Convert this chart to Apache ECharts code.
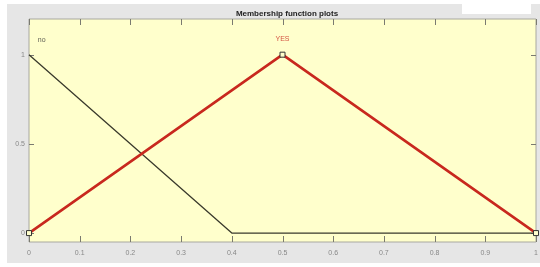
<!DOCTYPE html>
<html>
<head>
<meta charset="utf-8">
<script src="https://cdn.jsdelivr.net/npm/echarts@6/dist/echarts.min.js"></script>
<style>
  html, body { margin: 0; padding: 0; background: #fff; }
  #chart { width: 540px; height: 267px; }
</style>
</head>
<body>
<div id="chart"></div>
<script>
// membership functions: [x, degree]
const noPoints = [[0, 1], [0.4, 0], [1, 0]];
const yesPoints = [[0, 0], [0.5, 1], [1, 0]];
// labels drawn above each function
const mfLabels = [
  { name: 'no', x: 0.025, y: 1.08, color: '#333' },
  { name: 'YES', x: 0.5, y: 1.09, color: '#c8281e' }
];
const xTicks = [0, 0.1, 0.2, 0.3, 0.4, 0.5, 0.6, 0.7, 0.8, 0.9, 1];
const yTicks = [0, 0.5, 1];

const X_MIN = 0, X_MAX = 1;
const Y_MIN = -0.05, Y_MAX = 1.2;

const chart = echarts.init(document.getElementById('chart'));

const TICK_COLOR = '#7a7a70';
const crisp = v => Math.round(v) + 0.5;

function tickLine(x1, y1, x2, y2) {
  return { type: 'line', shape: { x1, y1, x2, y2 }, style: { stroke: TICK_COLOR, lineWidth: 1 } };
}

chart.setOption({
  animation: false,
  backgroundColor: '#fff',
  title: {
    text: 'Membership function plots',
    left: 282,
    textAlign: 'center',
    top: 5,
    textStyle: { fontSize: 8, fontWeight: 'bold', color: '#222', fontFamily: 'Liberation Sans Narrow, Arial Narrow, sans-serif' }
  },
  graphic: [
    { type: 'rect', z: -10, silent: true, shape: { x: 7, y: 4, width: 533, height: 259 }, style: { fill: '#e6e6e6' } },
    { type: 'rect', z: -5, silent: true, shape: { x: 462, y: 0, width: 69, height: 14 }, style: { fill: '#ffffff' } }
  ],
  grid: {
    left: 29, right: 4, top: 19, bottom: 25,
    outerBoundsMode: 'none',
    show: true,
    backgroundColor: '#ffffcc',
    borderColor: '#a8a8a0',
    borderWidth: 1
  },
  xAxis: {
    type: 'value', min: X_MIN, max: X_MAX, interval: 0.1,
    axisLine: { show: false, onZero: false },
    axisTick: { show: false },
    axisLabel: { fontSize: 7, color: '#888', margin: 8 },
    splitLine: { show: false }
  },
  yAxis: {
    type: 'value', min: Y_MIN, max: Y_MAX,
    axisLine: { show: false, onZero: false },
    axisTick: { show: false },
    axisLabel: { fontSize: 7, color: '#888', margin: 4, customValues: yTicks },
    splitLine: { show: false }
  },
  series: [
    {
      // x ticks, inside, on bottom and top edges
      type: 'custom', silent: true, z: 1,
      data: xTicks.map(v => [v, 0]),
      renderItem(params, api) {
        const v = api.value(0);
        const b = api.coord([v, Y_MIN]);
        const t = api.coord([v, Y_MAX]);
        const x = crisp(b[0]);
        return {
          type: 'group',
          children: [tickLine(x, b[1], x, b[1] - 6), tickLine(x, t[1], x, t[1] + 6)]
        };
      }
    },
    {
      // y ticks, inside, on left and right edges
      type: 'custom', silent: true, z: 1,
      data: yTicks.map(v => [0, v]),
      renderItem(params, api) {
        const v = api.value(1);
        const l = api.coord([X_MIN, v]);
        const r = api.coord([X_MAX, v]);
        const y = crisp(l[1]);
        return {
          type: 'group',
          children: [tickLine(l[0], y, l[0] + 5, y), tickLine(r[0], y, r[0] - 5, y)]
        };
      }
    },
    {
      name: 'no', type: 'line', data: noPoints,
      showSymbol: false,
      lineStyle: { color: '#3a3a2c', width: 1.3 },
      z: 2
    },
    {
      name: 'YES', type: 'line', data: yesPoints,
      symbol: 'rect', symbolSize: 5,
      itemStyle: { color: '#ffffcc', borderColor: '#333', borderWidth: 1 },
      lineStyle: { color: '#c8281e', width: 2.6 },
      z: 3
    },
    {
      type: 'scatter', symbolSize: 0, silent: true,
      data: mfLabels.map(d => ({
        value: [d.x, d.y],
        label: { show: true, formatter: d.name, color: d.color, fontSize: 7, position: 'inside' }
      }))
    }
  ]
});
</script>
</body>
</html>
